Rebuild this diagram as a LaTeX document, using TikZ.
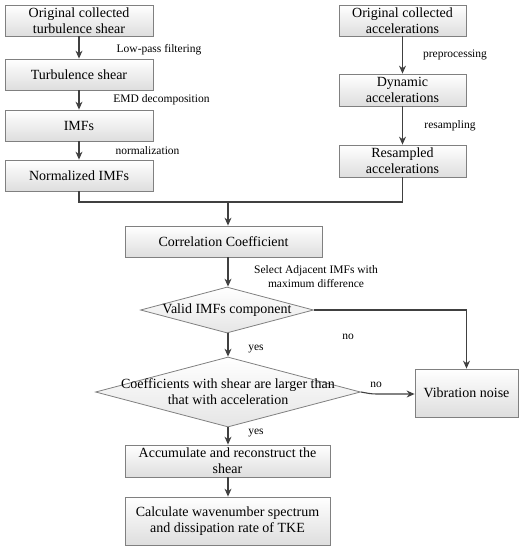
\documentclass[tikz,border=0pt]{standalone}
\usepackage{fontspec}
\setmainfont{Liberation Serif}
\usetikzlibrary{shapes.geometric,arrows.meta}
\begin{document}
\begin{tikzpicture}[x=1pt,y=-1pt,
  box/.style={draw=black!50, line width=0.8pt, top color=white, bottom color=black!13,
    align=center, inner sep=1pt, font=\fontsize{14}{16}\selectfont},
  dia/.style={diamond, draw=black!50, line width=0.8pt, top color=white, bottom color=black!10,
    inner sep=0pt},
  lbl/.style={font=\fontsize{11.5}{13.5}\selectfont, align=center, inner sep=0pt},
  txt/.style={font=\fontsize{14}{16}\selectfont, align=center, inner sep=0pt},
  arr/.style={draw=black!75, line width=1.1pt, -{Stealth[length=8pt,width=7pt]}},
  ln/.style={draw=black!75, line width=1.1pt}]
\useasboundingbox (0,0) rectangle (524,550);
% left column
\node[box, minimum width=148pt, minimum height=31pt] (l1) at (79,20.5) {Original collected\\turbulence shear};
\node[box, minimum width=148pt, minimum height=31pt] (l2) at (79,74.5) {Turbulence shear};
\node[box, minimum width=148pt, minimum height=31pt] (l3) at (79,125.5) {IMFs};
\node[box, minimum width=148pt, minimum height=31pt] (l4) at (79,175.5) {Normalized IMFs};
% right column
\node[box, minimum width=127pt, minimum height=31pt] (r1) at (402.5,20.5) {Original collected\\accelerations};
\node[box, minimum width=127pt, minimum height=32pt] (r2) at (402.5,90) {Dynamic\\accelerations};
\node[box, minimum width=127pt, minimum height=32pt] (r3) at (402.5,161) {Resampled\\accelerations};
% center
\coordinate (mL) at (79,202);
\coordinate (mC) at (228,202);
\coordinate (mR) at (402.5,202);
\node[box, minimum width=197pt, minimum height=31pt] (corr) at (223.5,241.5) {Correlation Coefficient};
\node[dia, minimum width=173pt, minimum height=46pt] (d1) at (227,310) {};
\node[txt] (d1t) at (d1.center) {Valid IMFs component};
\node[dia, minimum width=265pt, minimum height=70pt] (d2) at (228,392) {};
\node[txt] (d2t) at (d2.center) {Coefficients with shear are larger than\\that with acceleration};
\node[box, minimum width=103pt, minimum height=48pt] (vib) at (466.5,393) {Vibration noise};
\node[box, minimum width=205pt, minimum height=32pt] (acc) at (227.5,461) {Accumulate and reconstruct the\\shear};
\node[box, minimum width=205pt, minimum height=48pt] (calc) at (227.5,521) {Calculate wavenumber spectrum\\and dissipation rate of TKE};
% labels
\node[lbl] (t1) at (159,50) {Low-pass filtering};
\node[lbl] (t2) at (161.5,100) {EMD decomposition};
\node[lbl] (t3) at (147.5,151) {normalization};
\node[lbl] (t4) at (455,55) {preprocessing};
\node[lbl] (t5) at (450,126) {resampling};
\node[lbl] (t6) at (316,276.5) {Select Adjacent IMFs with\\maximum difference};
\node[lbl] (t7) at (348,337) {no};
\node[lbl] (t8) at (256,349) {yes};
\node[lbl] (t9) at (376,385) {no};
\node[lbl] (t10) at (256,433) {yes};
% connectors
\draw[arr] (l1) -- (l2);
\draw[arr] (l2) -- (l3);
\draw[arr] (l3) -- (l4);
\draw[arr] (r1) -- (r2);
\draw[arr] (r2) -- (r3);
\draw[ln] (l4.south) -- (mL) -- (mR) -- (r3.south);
\draw[arr] (mC) -- (corr.north -| mC);
\draw[arr] (corr.south -| mC) -- (d1.north -| mC);
\draw[arr] (d1.south -| mC) -- (d2.north -| mC);
\draw[arr] (d1.east) -- (vib.north |- d1.east) -- (vib.north);
\draw[arr] (d2.east) to[out=-10,in=180] ++(16,2) -- (vib.west |- 0,394);
\draw[arr] (d2.south -| mC) -- (acc.north -| mC);
\draw[arr] (acc.south -| mC) -- (calc.north -| mC);
\end{tikzpicture}
\end{document}
